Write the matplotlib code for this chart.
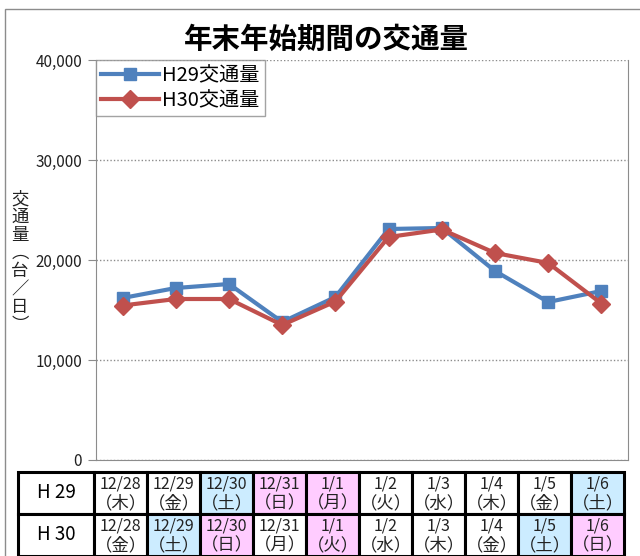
import matplotlib
matplotlib.use('Agg')
import matplotlib.pyplot as plt
from matplotlib.patches import Rectangle
from matplotlib.ticker import FuncFormatter

plt.rcParams['font.family'] = ['Noto Sans CJK JP', 'DejaVu Sans']

# data
dates = ['12/28', '12/29', '12/30', '12/31', '1/1', '1/2', '1/3', '1/4', '1/5', '1/6']
h29_days = ['木', '金', '土', '日', '月', '火', '水', '木', '金', '土']
h30_days = ['金', '土', '日', '月', '火', '水', '木', '金', '土', '日']
h29_traffic = [16200, 17200, 17600, 13800, 16300, 23100, 23200, 18900, 15800, 16900]
h30_traffic = [15450, 16100, 16100, 13500, 15850, 22300, 23050, 20700, 19700, 15650]

BLUE = '#4F81BD'
RED = '#C0504D'
SAT = '#CCECFF'
SUN = '#FFCCFF'

W, H = 640, 556
fig = plt.figure(figsize=(W / 100, H / 100), dpi=100)

# outer chart frame
fig.add_artist(Rectangle((5 / W, -0.1), 1.2, 1 - 9 / H + 0.1, transform=fig.transFigure,
                         fill=False, ec='#8c8c8c', lw=1.0))

# main plot
ax = fig.add_axes([96 / W, (H - 460) / H, (628 - 96) / W, 400 / H])
x = range(len(dates))
ax.plot(x, h29_traffic, color=BLUE, lw=3, marker='s', ms=9, label='H29交通量', zorder=3)
ax.plot(x, h30_traffic, color=RED, lw=3, marker='D', ms=9.5, label='H30交通量', zorder=4)
ax.set_xlim(-0.5, len(dates) - 0.5)
ax.set_ylim(0, 40000)
ax.set_yticks([0, 10000, 20000, 30000, 40000])
ax.yaxis.set_major_formatter(FuncFormatter(lambda v, p: f'{int(v):,}'))
ax.set_xticks([])
ax.tick_params(axis='y', direction='out', length=6, color='#8c8c8c', labelsize=11,
               labelcolor='#222222', pad=4)
ax.grid(axis='y', ls=(0, (1, 1.5)), color='#8c8c8c', lw=1)
for s in ax.spines.values():
    s.set_color('#8c8c8c')
ax.spines['top'].set_visible(False)

fig.text(326 / W, 1 - 40 / H, '年末年始期間の交通量', ha='center', va='center',
         fontsize=20.5, fontweight='bold')

leg = ax.legend(loc='upper left', bbox_to_anchor=(0, 1.0), fontsize=14.5, frameon=True,
                fancybox=False, edgecolor='#8c8c8c', borderpad=0.25, labelspacing=0.2,
                handlelength=2.9, handletextpad=0.15, borderaxespad=0)
leg.get_frame().set_linewidth(1.0)

# vertical y label
fig.text(20 / W, 1 - 262 / H, '\n'.join('交通量︵台／日︶'), ha='center', va='center',
         fontsize=12.5, linespacing=1.0, color='#222222')

# date table under the chart
tab = fig.add_axes([0, 0, 1, 1])
tab.set_xlim(0, W)
tab.set_ylim(H, 0)
tab.axis('off')
x0, lab_w, col_w = 18, 76, 53
rows = [('H29', h29_days), ('H30', h30_days)]
row_h = 42
y0 = 472
for r, (name, days) in enumerate(rows):
    top = y0 + r * row_h
    tab.add_patch(Rectangle((x0, top), lab_w, row_h, fc='white', ec='black', lw=2.2))
    tab.text(x0 + lab_w / 2, top + row_h / 2, name[0] + ' ' + name[1:], ha='center',
             va='center', fontsize=13.5)
    for c, (d, wd) in enumerate(zip(dates, days)):
        if wd == '土':
            fc = SAT
        elif wd == '日' or d == '1/1':
            fc = SUN
        else:
            fc = 'white'
        left = x0 + lab_w + c * col_w
        tab.add_patch(Rectangle((left, top), col_w, row_h, fc=fc, ec='black', lw=2.2))
        tab.text(left + col_w / 2, top + 12, d, ha='center', va='center', fontsize=11.5,
                 color='#222222')
        tab.text(left + col_w / 2, top + 31, '（' + wd + '）', ha='center', va='center',
                 fontsize=12.5, color='#222222')

fig.savefig('out.png', dpi=100)
